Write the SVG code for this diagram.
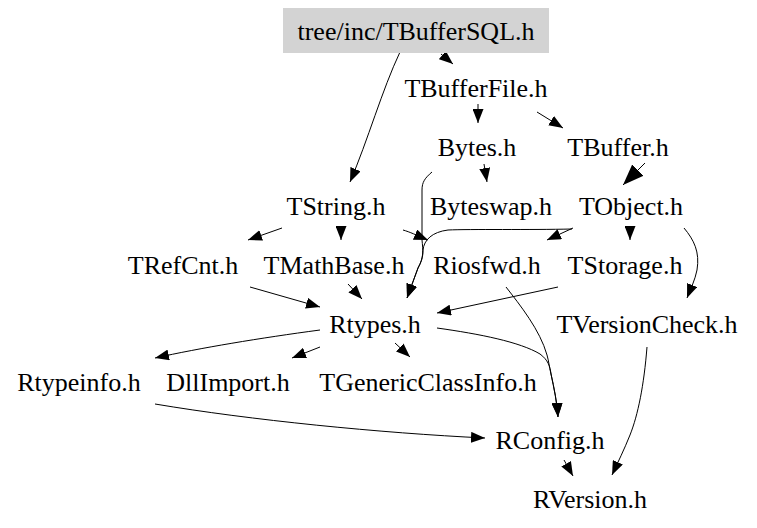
<svg xmlns="http://www.w3.org/2000/svg" width="757" height="528" viewBox="0 0 757 528">
<defs>
<style>
text{font-family:"Liberation Serif","Times New Roman",serif;font-size:26px;fill:#000;text-anchor:middle}
.e{fill:none;stroke:#000;stroke-width:1;marker-end:url(#a)}
.b{fill:none;stroke:#000;stroke-width:1;marker-end:url(#big)}
</style>
<marker id="a" markerWidth="14" markerHeight="11" refX="14" refY="5.5" orient="auto" markerUnits="userSpaceOnUse"><path d="M0,0 L14,5.5 L0,11 z" fill="#000"/></marker>
<marker id="big" markerWidth="21" markerHeight="16" refX="21" refY="8" orient="auto" markerUnits="userSpaceOnUse"><path d="M0,0 L21,8 L0,16 z" fill="#000"/></marker>
</defs>
<rect width="757" height="528" fill="#fff"/>
<g id="edges">
<path class="e" d="M441,54 L453,64"/>
<path class="e" d="M400,52 C382,90 368,140 350,182"/>
<path class="e" d="M478,104 L478,123"/>
<path class="e" d="M537,112 L563,128"/>
<path class="b" d="M645,163 L623,185"/>
<path class="e" d="M484,164 L487,182"/>
<path class="e" d="M432,172 C425,178 422,182 422,190 L422,240 C423,250 424,258 418,268 L407,298"/>
<path class="e" d="M572,229 C530,230 470,229 448,230 C432,232 424,240 423,250 C423,258 421,262 418,268 L407,298"/>
<path class="e" d="M403,230 C410,232 416,235 428,240"/>
<path class="e" d="M573,228 L547,240"/>
<path class="e" d="M282,228 L248,240"/>
<path class="e" d="M341,226 L341,240"/>
<path class="e" d="M630,226 L630,240"/>
<path class="e" d="M684,228 C694,240 700,252 697,270 C695,280 691,288 687,298"/>
<path class="e" d="M250,287 L320,307"/>
<path class="e" d="M348,284 L362,299"/>
<path class="e" d="M558,287 L437,313"/>
<path class="e" d="M506,287 C520,305 540,330 547,355 C549,362 549,366 551,374 C554,388 557,402 558,417"/>
<path class="e" d="M437,328 C480,334 520,342 540,354 C548,360 550,366 551,374 C554,388 557,402 558,417"/>
<path class="e" d="M320,330 C260,338 200,348 155,358"/>
<path class="e" d="M320,347 L292,358"/>
<path class="e" d="M395,343 L410,357"/>
<path class="e" d="M155,404 C250,420 380,433 485,438"/>
<path class="e" d="M564,460 L573,476"/>
<path class="e" d="M647,347 C644,385 638,415 630,435 C624,450 618,462 612,475"/>
</g>
<g id="TBufferSQL"><rect x="283" y="8" width="266" height="45" fill="#d3d3d3"/><text x="416" y="40">tree/inc/TBufferSQL.h</text></g>
<g id="TBufferFile"><text x="476" y="97">TBufferFile.h</text></g>
<g id="Bytes"><text x="477" y="156">Bytes.h</text></g>
<g id="TBuffer"><text x="618" y="156">TBuffer.h</text></g>
<g id="TString"><text x="336" y="215">TString.h</text></g>
<g id="Byteswap"><text x="491" y="215">Byteswap.h</text></g>
<g id="TObject"><text x="631" y="215">TObject.h</text></g>
<g id="TRefCnt"><text x="183" y="274">TRefCnt.h</text></g>
<g id="TMathBase"><text x="334" y="274">TMathBase.h</text></g>
<g id="Riosfwd"><text x="487" y="274">Riosfwd.h</text></g>
<g id="TStorage"><text x="625" y="274">TStorage.h</text></g>
<g id="Rtypes"><text x="375" y="333">Rtypes.h</text></g>
<g id="TVersionCheck"><text x="647" y="333">TVersionCheck.h</text></g>
<g id="Rtypeinfo"><text x="79" y="391">Rtypeinfo.h</text></g>
<g id="DllImport"><text x="228" y="391">DllImport.h</text></g>
<g id="TGenericClassInfo"><text x="428" y="391">TGenericClassInfo.h</text></g>
<g id="RConfig"><text x="550" y="449">RConfig.h</text></g>
<g id="RVersion"><text x="590" y="508">RVersion.h</text></g>
</svg>
